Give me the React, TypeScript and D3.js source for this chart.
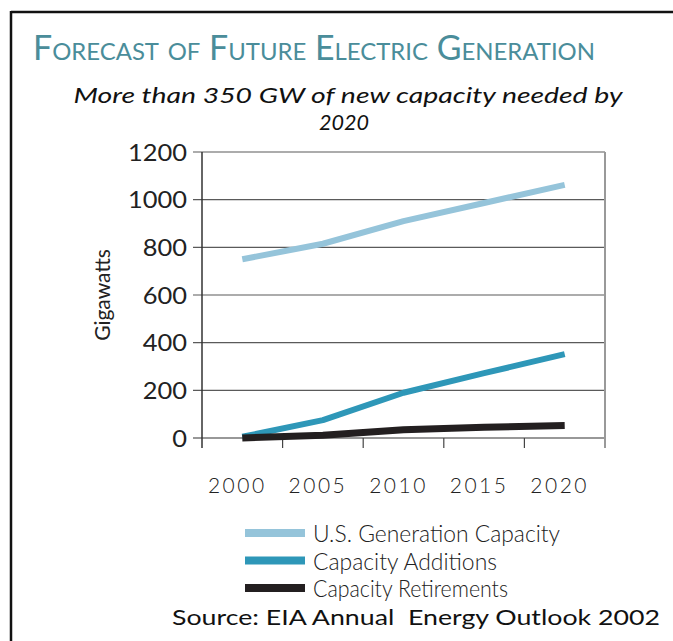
import * as d3 from 'd3';

const W = 673;
const H = 641;
const M = { top: 152, right: 68, bottom: 203, left: 202 };

const years = ['2000', '2005', '2010', '2015', '2020'];
const genCapacity = [750, 815, 910, 986, 1062];
const additions = [5, 75, 190, 272, 352];
const retirements = [0, 12, 35, 45, 52];
const yTicks = [0, 200, 400, 600, 800, 1000, 1200];

const series = [
  { name: 'U.S. Generation Capacity', values: genCapacity, color: '#95c4da', width: 6, textLen: 247 },
  { name: 'Capacity Additions', values: additions, color: '#2e97b8', width: 6, textLen: 184 },
  { name: 'Capacity Retirements', values: retirements, color: '#231f20', width: 7, textLen: 195 },
];

const FONT = 'Lato, "Noto Sans", sans-serif';

export default function App() {
  const x0 = M.left;
  const x1 = W - M.right;
  const yTop = M.top;
  const yBot = H - M.bottom;

  const x = d3.scaleBand<string>().domain(years).range([x0, x1]).padding(0);
  const y = d3.scaleLinear().domain([0, 1200]).range([yBot, yTop]);
  const cx = (yr: string) => (x(yr) ?? 0) + x.bandwidth() / 2;

  const line = d3
    .line<number>()
    .x((_, i) => cx(years[i]))
    .y(v => y(v));

  return (
    <svg
      width={W}
      height={H}
      style={{ position: 'absolute', left: 0, top: 0, background: '#fff' }}
      fontFamily={FONT}
    >
      {/* outer frame (top + left only) */}
      <line x1={11} x2={W} y1={12} y2={12} stroke="#111" strokeWidth={2.5} />
      <line x1={11} x2={11} y1={11} y2={H} stroke="#111" strokeWidth={2.5} />

      {/* title, small caps */}
      <text x={33} y={60} fill="#4a8d9a" fontSize={34} fontVariant="small-caps"
        textLength={562} lengthAdjust="spacingAndGlyphs">
        Forecast of Future Electric Generation
      </text>

      {/* subtitle */}
      <text x={348} y={103} textAnchor="middle" fontSize={22} fontStyle="italic" fill="#111"
        textLength={549} lengthAdjust="spacingAndGlyphs">
        More than 350 GW of new capacity needed by
      </text>
      <text x={344} y={129.5} textAnchor="middle" fontSize={22} fontStyle="italic" fill="#111"
        textLength={50} lengthAdjust="spacingAndGlyphs">
        2020
      </text>

      {/* grid */}
      {yTicks.map(t => (
        <g key={t}>
          <line x1={x0 - 9} x2={x1} y1={y(t)} y2={y(t)} stroke={t === 0 ? '#333' : '#5a5a5a'} strokeWidth={1.2} />
          <text x={187} y={y(t)} dy="0.36em" textAnchor="end" fontSize={24} fill="#222"
            textLength={String(t).length * 14.75} lengthAdjust="spacingAndGlyphs">
            {t}
          </text>
        </g>
      ))}

      {/* axes */}
      <line x1={x0} x2={x0} y1={yTop} y2={yBot + 10} stroke="#333" strokeWidth={1.5} />
      <line x1={x1} x2={x1} y1={yTop} y2={yBot + 10} stroke="#999" strokeWidth={2} />
      {years.slice(0, -1).map(yr => (
        <line key={yr} x1={(x(yr) ?? 0) + x.bandwidth()} x2={(x(yr) ?? 0) + x.bandwidth()}
          y1={yBot} y2={yBot + 10} stroke="#444" strokeWidth={1.2} />
      ))}
      {years.map(yr => (
        <text key={yr} x={cx(yr)} dx={-5} y={493} textAnchor="middle" fontSize={21}
          fontWeight={300} letterSpacing={2.5} fill="#222">
          {yr}
        </text>
      ))}

      <text transform={`translate(110,295) rotate(-90)`} textAnchor="middle" fontSize={21}
        fill="#222">
        Gigawatts
      </text>

      {/* series */}
      {series.map(s => (
        <path key={s.name} d={line(s.values) ?? ''} fill="none" stroke={s.color}
          strokeWidth={s.width} strokeLinejoin="round" />
      ))}

      {/* legend */}
      {series.map((s, i) => (
        <g key={s.name} transform={`translate(0,${533 + i * 27.5})`}>
          <line x1={245} x2={305} y1={0} y2={0} stroke={s.color} strokeWidth={8} />
          <text x={313} y={9} fontSize={23} fontWeight={300} fill="#222" textLength={s.textLen}
            lengthAdjust="spacingAndGlyphs">
            {s.name}
          </text>
        </g>
      ))}

      <text x={172} y={625} fontSize={22} fill="#111" textLength={488} lengthAdjust="spacingAndGlyphs"
        style={{ whiteSpace: 'pre' }}>
        {'Source: EIA Annual  Energy Outlook 2002'}
      </text>
    </svg>
  );
}
